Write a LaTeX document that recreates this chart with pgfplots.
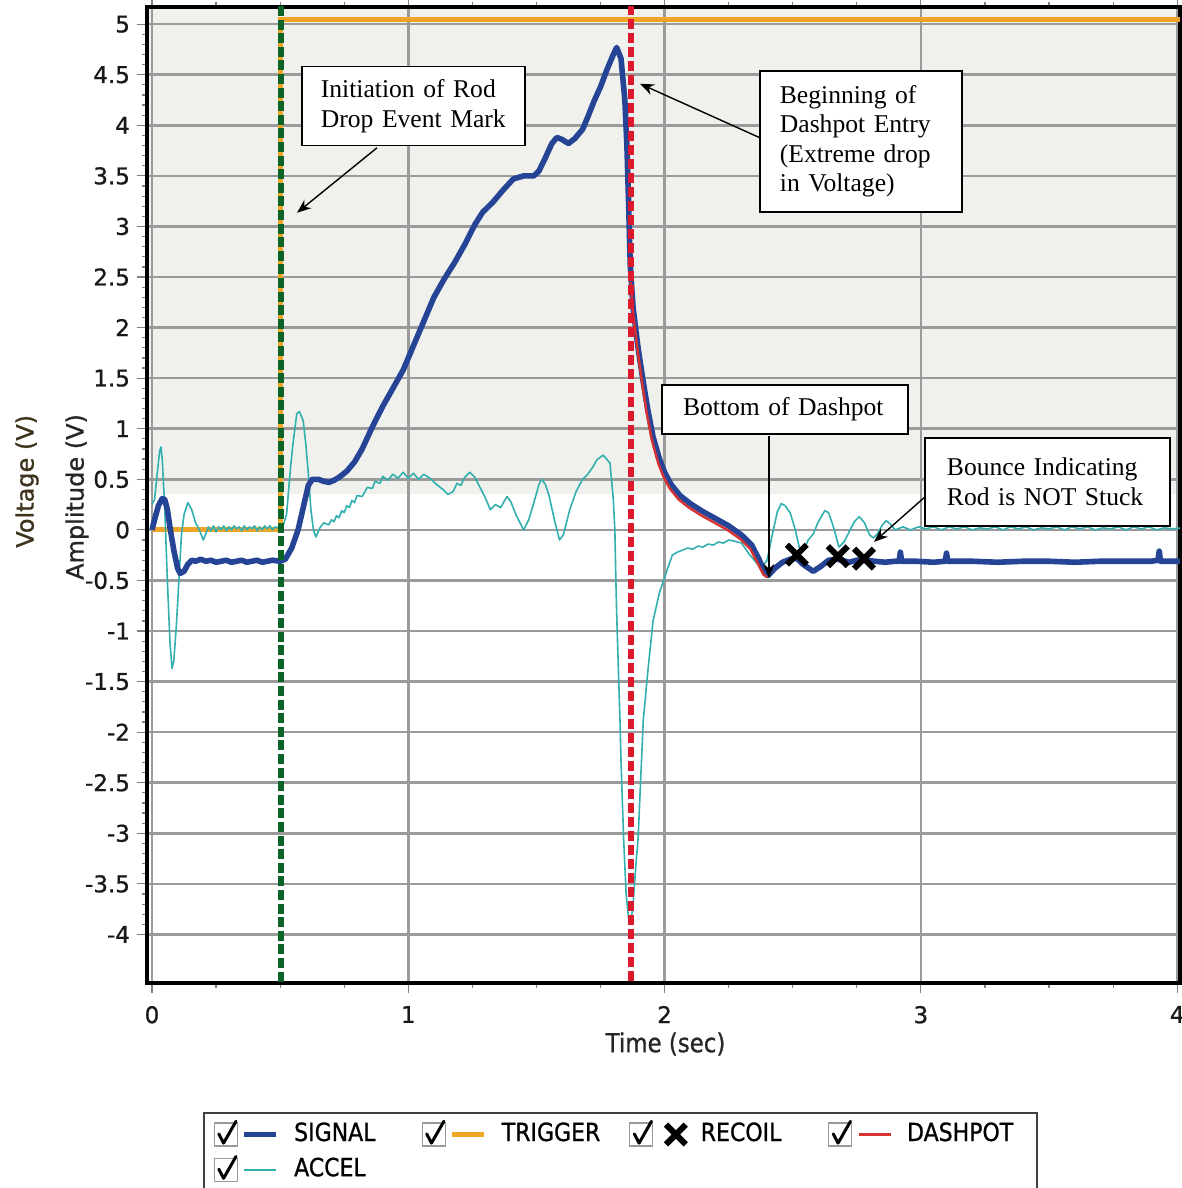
\documentclass[border=0pt]{standalone}
\usepackage{fontspec}
\setmainfont{DejaVu Sans}[FakeBold=0.6]
\newfontfamily\tickf[FakeBold=0.9]{DejaVu Sans}
\newfontfamily\cond[FakeStretch=0.88,FakeBold=0.9]{DejaVu Sans}
\newfontfamily\tnr{Liberation Serif}
\usepackage{pgfplots}
\pgfplotsset{compat=1.18}
\usetikzlibrary{arrows.meta,calc}

\definecolor{sigc}{RGB}{38,68,150}
\definecolor{trigc}{RGB}{240,165,40}
\definecolor{accc}{RGB}{50,175,175}
\definecolor{dashc}{RGB}{215,50,50}
\definecolor{greenl}{RGB}{10,100,40}
\definecolor{redl}{RGB}{220,25,45}
\definecolor{gridc}{RGB}{155,155,155}
\definecolor{tint}{RGB}{240,241,236}
\definecolor{voltc}{RGB}{62,52,30}

\pgfplotsset{
  chkbox/.style={legend image code/.code={
     \draw[draw=gray!80, line width=0.6pt, fill=white] (0pt,-5.75pt) rectangle (11.5pt,5.75pt);
     \draw[black, line width=1.5pt, line cap=round, line join=round] (2.2pt,0.3pt) -- (4.6pt,-4.3pt) -- (10.8pt,6.6pt);
     \draw[mark repeat=2, mark phase=2, ##1] plot coordinates {(15pt,0pt) (23pt,0pt) (31pt,0pt)};
  }},
  sigstyle/.style={color=sigc, line width=2.8pt, line join=round},
  trigstyle/.style={color=trigc, line width=2.5pt},
  recstyle/.style={black, only marks, mark=x, mark size=7pt, line width=3pt},
  dashstyle/.style={color=dashc, line width=1.2pt},
  accstyle/.style={color=accc, line width=0.8pt, line join=round},
}

\pgfplotstableread{
x y
0 0.0
0.01 0.1
0.025 0.24
0.04 0.31
0.05 0.3
0.06 0.2
0.07 0.03
0.085 -0.2
0.1 -0.38
0.11 -0.43
0.125 -0.41
0.14 -0.34
0.155 -0.3
0.17 -0.31
0.19 -0.29
0.21 -0.31
0.23 -0.30
0.25 -0.32
0.27 -0.31
0.29 -0.30
0.31 -0.32
0.33 -0.31
0.35 -0.30
0.37 -0.32
0.39 -0.31
0.41 -0.30
0.43 -0.32
0.45 -0.31
0.47 -0.30
0.50 -0.31
0.52 -0.29
0.545 -0.18
0.57 0.0
0.59 0.22
0.61 0.44
0.625 0.50
0.65 0.50
0.67 0.48
0.69 0.47
0.71 0.49
0.73 0.52
0.76 0.58
0.79 0.67
0.82 0.80
0.86 1.02
0.90 1.22
0.94 1.40
0.98 1.58
1.02 1.82
1.06 2.06
1.10 2.30
1.14 2.48
1.18 2.64
1.22 2.82
1.26 3.02
1.29 3.14
1.33 3.24
1.37 3.36
1.41 3.47
1.45 3.50
1.49 3.50
1.51 3.55
1.535 3.68
1.56 3.82
1.58 3.88
1.60 3.86
1.625 3.82
1.65 3.87
1.68 3.96
1.70 4.08
1.725 4.24
1.75 4.38
1.775 4.55
1.80 4.70
1.813 4.77
1.83 4.66
1.845 4.25
1.853 3.80
1.86 3.20
1.866 2.62
1.877 2.20
1.896 1.81
1.915 1.49
1.935 1.18
1.955 0.92
1.98 0.70
2.0 0.57
2.025 0.45
2.06 0.34
2.1 0.26
2.15 0.18
2.2 0.11
2.25 0.04
2.3 -0.05
2.34 -0.15
2.37 -0.30
2.39 -0.42
2.405 -0.45
2.43 -0.38
2.46 -0.32
2.49 -0.29
2.515 -0.28
2.54 -0.34
2.58 -0.41
2.61 -0.36
2.64 -0.30
2.675 -0.29
2.72 -0.32
2.75 -0.30
2.78 -0.30
2.82 -0.31
2.86 -0.32
2.90 -0.31
2.915 -0.31
2.92 -0.22
2.925 -0.31
2.98 -0.31
3.05 -0.32
3.095 -0.31
3.10 -0.23
3.105 -0.31
3.2 -0.31
3.3 -0.32
3.4 -0.31
3.5 -0.31
3.6 -0.32
3.7 -0.31
3.8 -0.31
3.9 -0.31
3.925 -0.30
3.93 -0.21
3.935 -0.31
4.02 -0.31
}\signaltable

\pgfplotstableread{
x y
1.868 2.45
1.878 2.12
1.894 1.79
1.912 1.46
1.93 1.16
1.95 0.89
1.975 0.66
1.995 0.53
2.02 0.41
2.055 0.30
2.095 0.22
2.145 0.14
2.195 0.07
2.245 0.00
2.295 -0.09
2.335 -0.19
2.365 -0.34
2.385 -0.44
2.40 -0.47
}\dashtable

\pgfplotstableread{
x y
0 0.25
0.01 0.3
0.02 0.55
0.03 0.78
0.035 0.82
0.04 0.7
0.05 0.2
0.06 -0.5
0.07 -1.1
0.078 -1.37
0.085 -1.3
0.095 -0.95
0.105 -0.5
0.115 -0.05
0.125 0.15
0.14 0.27
0.155 0.2
0.17 0.07
0.185 0.0
0.2 -0.1
0.21 -0.04
0.22 0.03
0.23 -0.01
0.24 0.04
0.25 -0.02
0.26 0.03
0.27 0.0
0.28 0.04
0.29 -0.01
0.30 0.03
0.31 0.0
0.32 0.04
0.33 0.01
0.34 0.03
0.35 -0.01
0.36 0.04
0.37 0.0
0.38 0.03
0.39 0.01
0.40 0.04
0.41 -0.01
0.42 0.03
0.43 0.0
0.44 0.04
0.45 0.01
0.46 0.04
0.47 0.0
0.48 0.03
0.49 0.02
0.50 0.03
0.51 0.03
0.525 0.15
0.54 0.6
0.55 0.85
0.565 1.15
0.575 1.17
0.59 1.08
0.60 0.85
0.61 0.56
0.62 0.2
0.63 0.0
0.64 -0.07
0.655 0.02
0.67 0.07
0.69 0.05
0.70 0.10
0.71 0.08
0.72 0.14
0.73 0.12
0.74 0.19
0.75 0.17
0.76 0.24
0.77 0.22
0.78 0.29
0.79 0.27
0.80 0.34
0.82 0.33
0.84 0.42
0.86 0.41
0.87 0.48
0.89 0.46
0.90 0.53
0.92 0.49
0.94 0.55
0.96 0.51
0.98 0.57
1.0 0.51
1.02 0.56
1.04 0.50
1.06 0.55
1.085 0.51
1.11 0.45
1.135 0.40
1.155 0.35
1.175 0.38
1.19 0.46
1.205 0.44
1.22 0.52
1.24 0.57
1.26 0.52
1.28 0.42
1.30 0.32
1.32 0.20
1.34 0.25
1.36 0.22
1.385 0.33
1.40 0.28
1.42 0.15
1.45 0.0
1.47 0.10
1.49 0.27
1.51 0.45
1.52 0.50
1.535 0.45
1.55 0.33
1.57 0.10
1.59 -0.10
1.605 -0.05
1.63 0.20
1.655 0.38
1.68 0.50
1.70 0.55
1.72 0.62
1.735 0.69
1.76 0.74
1.787 0.66
1.80 0.30
1.806 0.0
1.81 -0.5
1.813 -0.82
1.82 -1.4
1.826 -1.88
1.83 -2.28
1.84 -3.04
1.85 -3.6
1.86 -3.85
1.868 -3.9
1.877 -3.7
1.887 -3.35
1.897 -3.04
1.907 -2.45
1.917 -1.88
1.935 -1.39
1.955 -0.9
1.98 -0.62
2.0 -0.47
2.015 -0.36
2.03 -0.25
2.05 -0.22
2.07 -0.20
2.09 -0.18
2.11 -0.19
2.13 -0.16
2.15 -0.17
2.17 -0.14
2.19 -0.15
2.21 -0.12
2.23 -0.13
2.25 -0.10
2.27 -0.11
2.30 -0.13
2.33 -0.24
2.36 -0.33
2.38 -0.37
2.40 -0.30
2.42 -0.05
2.44 0.18
2.455 0.26
2.47 0.24
2.49 0.17
2.51 0.0
2.53 -0.22
2.545 -0.20
2.56 -0.10
2.58 -0.04
2.60 0.08
2.625 0.19
2.64 0.17
2.66 0.02
2.68 -0.17
2.70 -0.12
2.72 -0.02
2.74 0.08
2.76 0.13
2.78 0.07
2.80 -0.05
2.815 -0.08
2.83 -0.04
2.85 0.05
2.865 0.09
2.88 0.06
2.90 0.0
2.93 0.03
2.96 0.00
2.99 0.03
3.02 0.01
3.05 0.03
3.08 0.00
3.11 0.03
3.14 0.01
3.17 0.03
3.20 0.00
3.23 0.02
3.26 0.01
3.29 0.03
3.32 0.00
3.35 0.03
3.38 0.01
3.41 0.03
3.44 0.00
3.47 0.02
3.50 0.01
3.53 0.03
3.56 0.00
3.59 0.03
3.62 0.01
3.65 0.03
3.68 0.00
3.71 0.02
3.74 0.01
3.77 0.03
3.80 0.00
3.83 0.03
3.86 0.01
3.89 0.03
3.92 0.00
3.95 0.02
3.98 0.01
4.02 0.02
}\acceltable

\begin{document}
\begin{tikzpicture}
\begin{axis}[
  scale only axis, width=516.5pt, height=488pt,
  xmin=-0.0195, xmax=4.011, ymin=-4.48, ymax=5.17,
  set layers,
  axis line style={black, line width=1.6pt},
  xtick={0,1,2,3,4}, xticklabels={0,1,2,3,4},
  ytick={-4,-3.5,-3,-2.5,-2,-1.5,-1,-0.5,0,0.5,1,1.5,2,2.5,3,3.5,4,4.5,5},
  yticklabels={-4,-3.5,-3,-2.5,-2,-1.5,-1,-0.5,0,0.5,1,1.5,2,2.5,3,3.5,4,4.5,5},
  minor x tick num=3, minor y tick num=4,
  tick align=outside, major tick length=5pt, minor tick length=2.5pt,
  tick style={gray, line width=0.6pt},
  grid=major, major grid style={draw=gridc, line width=1.3pt},
  tick label style={font=\tickf\fontsize{11.5}{13}\selectfont, text=black!90},
  xticklabel style={yshift=-3pt},
  chkbox,
  legend columns=4,
  legend cell align=left,
  legend style={
    at={(0,0)}, anchor=north west, xshift=28pt, yshift=-64.5pt,
    draw=black!75, line width=0.8pt, fill=white,
    inner xsep=5pt, inner ysep=3.5pt,
    font=\cond\fontsize{12.5}{13}\selectfont,
    nodes={text width=60pt, inner xsep=0pt, inner ysep=1.5pt, text height=9pt, text depth=2.5pt, align=left},
    /tikz/every odd column/.append style={column sep=7.5pt},
    /tikz/every even column/.append style={column sep=3.75pt},
    row sep=3pt,
  },
]
\begin{pgfonlayer}{axis background}
  \fill[tint] (axis cs:-0.0195,0.35) rectangle (rel axis cs:1,1);
\end{pgfonlayer}

\addplot[trigstyle, forget plot] coordinates {(0,0) (0.503,0) (0.503,5.05) (4.02,5.05)};
\addplot[accstyle, forget plot] table {\acceltable};
\addplot[sigstyle, forget plot] table {\signaltable};
\addplot[dashstyle, forget plot] table {\dashtable};
\addplot[recstyle, forget plot] coordinates {(2.516,-0.245) (2.676,-0.26) (2.778,-0.285)};
\addplot[greenl, line width=2.8pt, dash pattern=on 5pt off 1.8pt, forget plot] coordinates {(0.503,-4.6) (0.503,5.3)};
\addplot[redl, line width=2.6pt, dash pattern=on 5pt off 2pt, forget plot] coordinates {(1.869,-4.6) (1.869,5.3)};

\addlegendimage{sigstyle}\addlegendentry{SIGNAL}
\addlegendimage{trigstyle}\addlegendentry{TRIGGER}
\addlegendimage{recstyle}\addlegendentry{RECOIL}
\addlegendimage{dashstyle}\addlegendentry{DASHPOT}
\addlegendimage{accstyle}\addlegendentry{ACCEL}

\tikzset{annot/.style={draw=black, line width=0.8pt, fill=white, font=\tnr\fontsize{12.8}{15}\selectfont, align=left, inner ysep=2pt}}
\tikzset{arr/.style={-{Stealth[length=7pt,width=5.5pt]}, line width=0.7pt, black}}

\node[annot, text width=92.5pt, inner xsep=9.5pt, minimum height=39.5pt] at (axis cs:1.020,4.19) {Initiation of Rod\\Drop Event Mark};
\draw[arr] (axis cs:0.878,3.778) -- (axis cs:0.566,3.136);

\node[annot, text width=81pt, inner xsep=10pt, minimum height=70.5pt, font=\tnr\fontsize{12.8}{14.7}\selectfont] at (axis cs:2.766,3.843) {Beginning of\\Dashpot Entry\\(Extreme drop\\in Voltage)};
\draw[arr] (axis cs:2.372,3.877) -- (axis cs:1.904,4.411);

\node[annot, text width=102pt, inner xsep=10.5pt, minimum height=24.5pt] at (axis cs:2.470,1.192) {Bottom of Dashpot};
\draw[arr] (axis cs:2.407,0.930) -- (axis cs:2.407,-0.475);

\node[annot, text width=100.5pt, inner xsep=11pt, minimum height=44pt] at (axis cs:3.494,0.475) {Bounce Indicating\\Rod is NOT Stuck};
\draw[arr] (axis cs:3.016,0.326) -- (axis cs:2.817,-0.119);
\end{axis}

\node[rotate=90, font=\tickf\fontsize{12}{14}\selectfont, text=voltc] at ($(current axis.south west)!0.514!(current axis.north west)+(-60pt,0)$) {Voltage (V)};
\node[rotate=90, font=\tickf\fontsize{12}{14}\selectfont, text=black!85] at ($(current axis.south west)!0.498!(current axis.north west)+(-35pt,0)$) {Amplitude (V)};
\node[font=\cond\fontsize{13}{15}\selectfont, text=black!85] at ($(current axis.south west)!0.5!(current axis.south east)+(1pt,-30.5pt)$) {Time (sec)};

\pgfresetboundingbox
\path ($(current axis.south west)+(-73.5pt,-102.5pt)$) rectangle ($(current axis.north east)+(1pt,3.5pt)$);
\end{tikzpicture}
\end{document}
